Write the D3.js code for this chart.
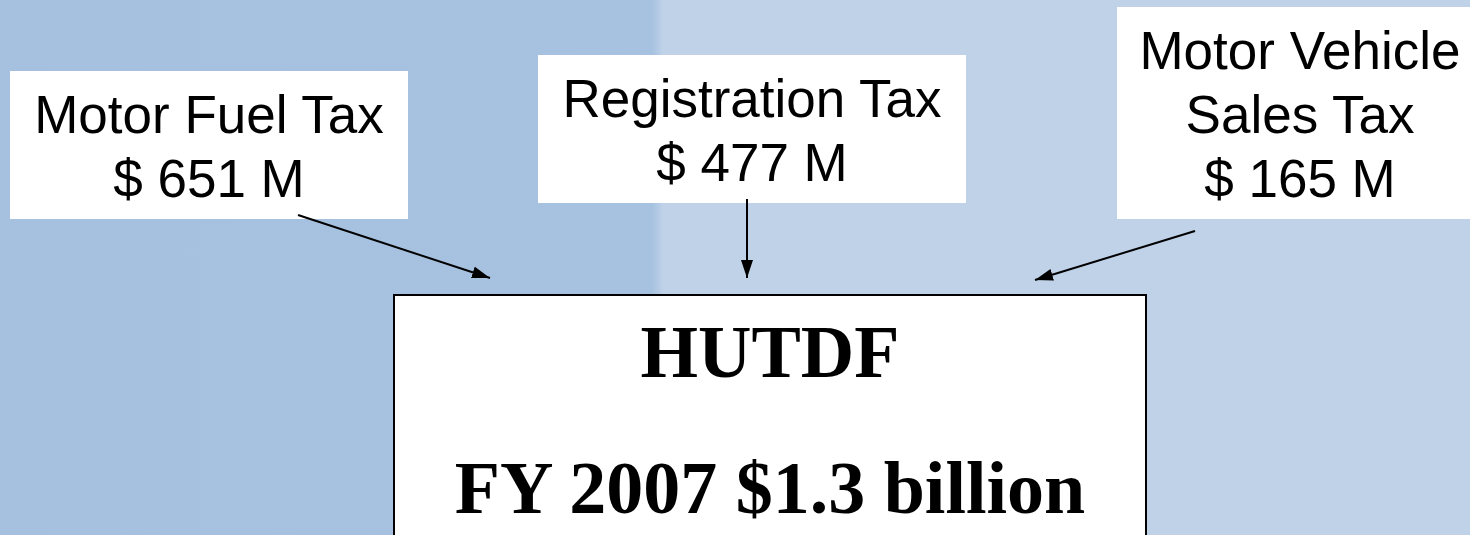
<!DOCTYPE html>
<html>
<head>
<meta charset="utf-8">
<script src="https://cdn.jsdelivr.net/npm/d3@7/dist/d3.min.js"></script>
<style>
  html, body { margin: 0; padding: 0; overflow: hidden; background: #bfd2e8; }
</style>
</head>
<body>
<svg id="chart" width="1470" height="535"></svg>
<script>
// revenue sources flowing into the fund
var sourceNames = [["Motor Fuel Tax"], ["Registration Tax"], ["Motor Vehicle", "Sales Tax"]];
var sourceValues = [651, 477, 165];
var fundName = "HUTDF";
var fundYear = "FY 2007";
var fundTotal = 1.3;

// layout for each source box (not data)
var boxLayout = [
  { x: 10, y: 71, w: 398, h: 148, base: 133, from: [298, 215], to: [490, 278] },
  { x: 538, y: 55, w: 428, h: 148, base: 117, from: [747, 199], to: [747, 278] },
  { x: 1117, y: 7, w: 380, h: 212, base: 69, from: [1195, 231], to: [1035, 280] }
];

var svg = d3.select("#chart"),
  width = +svg.attr("width"),
  height = +svg.attr("height");

// two-tone background
svg.append("rect")
  .attr("x", 0).attr("y", 0).attr("width", width).attr("height", height)
  .attr("fill", "#bfd2e8");

var defs = svg.append("defs");
var grad = defs.append("linearGradient")
  .attr("id", "split").attr("x1", "0").attr("x2", "1");
grad.append("stop").attr("offset", "0").attr("stop-color", "#a5c1df");
grad.append("stop").attr("offset", "0.985").attr("stop-color", "#a7c2e0");
grad.append("stop").attr("offset", "1").attr("stop-color", "#bcd0e8");

svg.append("rect")
  .attr("x", 0).attr("y", 0).attr("width", 662).attr("height", height)
  .attr("fill", "url(#split)");

defs.append("marker")
  .attr("id", "head")
  .attr("viewBox", "0 0 18 12")
  .attr("refX", 18).attr("refY", 6)
  .attr("markerUnits", "userSpaceOnUse")
  .attr("markerWidth", 18).attr("markerHeight", 12)
  .attr("orient", "auto")
  .append("path")
  .attr("d", "M0,0L18,6L0,12Z")
  .attr("fill", "#000");

var fmt = d3.format("d");

var sources = sourceNames.map(function(name, i) {
  return { lines: name.concat(["$ " + fmt(sourceValues[i]) + " M"]), box: boxLayout[i] };
});

// source boxes
var box = svg.append("g")
  .selectAll("g")
  .data(sources)
  .enter()
  .append("g");

box.append("rect")
  .attr("x", function(d) { return d.box.x; })
  .attr("y", function(d) { return d.box.y; })
  .attr("width", function(d) { return d.box.w; })
  .attr("height", function(d) { return d.box.h; })
  .attr("fill", "#fff");

box.each(function(d) {
  var cx = d.box.x + (d.box.x + d.box.w > width ? (1483 - d.box.x) : d.box.w) / 2;
  d3.select(this)
    .selectAll("text")
    .data(d.lines)
    .enter()
    .append("text")
    .attr("x", cx)
    .attr("y", function(t, j) { return d.box.base + j * 64; })
    .attr("text-anchor", "middle")
    .attr("font-family", "Liberation Sans, Arial, sans-serif")
    .attr("font-size", 53)
    .attr("fill", "#000")
    .text(function(t) { return t; });
});

// arrows
svg.append("g")
  .selectAll("line")
  .data(sources)
  .enter()
  .append("line")
  .attr("x1", function(d) { return d.box.from[0]; })
  .attr("y1", function(d) { return d.box.from[1]; })
  .attr("x2", function(d) { return d.box.to[0]; })
  .attr("y2", function(d) { return d.box.to[1]; })
  .attr("stroke", "#000")
  .attr("stroke-width", 2)
  .attr("marker-end", "url(#head)");

// central fund box
svg.append("rect")
  .attr("x", 394).attr("y", 295)
  .attr("width", 752).attr("height", 260)
  .attr("fill", "#fff")
  .attr("stroke", "#000")
  .attr("stroke-width", 2);

var fundLines = [fundName, fundYear + " $" + fundTotal + " billion"];
svg.append("g")
  .selectAll("text")
  .data(fundLines)
  .enter()
  .append("text")
  .attr("x", 770)
  .attr("y", function(d, i) { return i === 0 ? 377 : 513; })
  .attr("text-anchor", "middle")
  .attr("font-family", "Liberation Serif, Times New Roman, serif")
  .attr("font-weight", "bold")
  .attr("font-size", 74)
  .attr("fill", "#000")
  .text(function(d) { return d; });
</script>
</body>
</html>
